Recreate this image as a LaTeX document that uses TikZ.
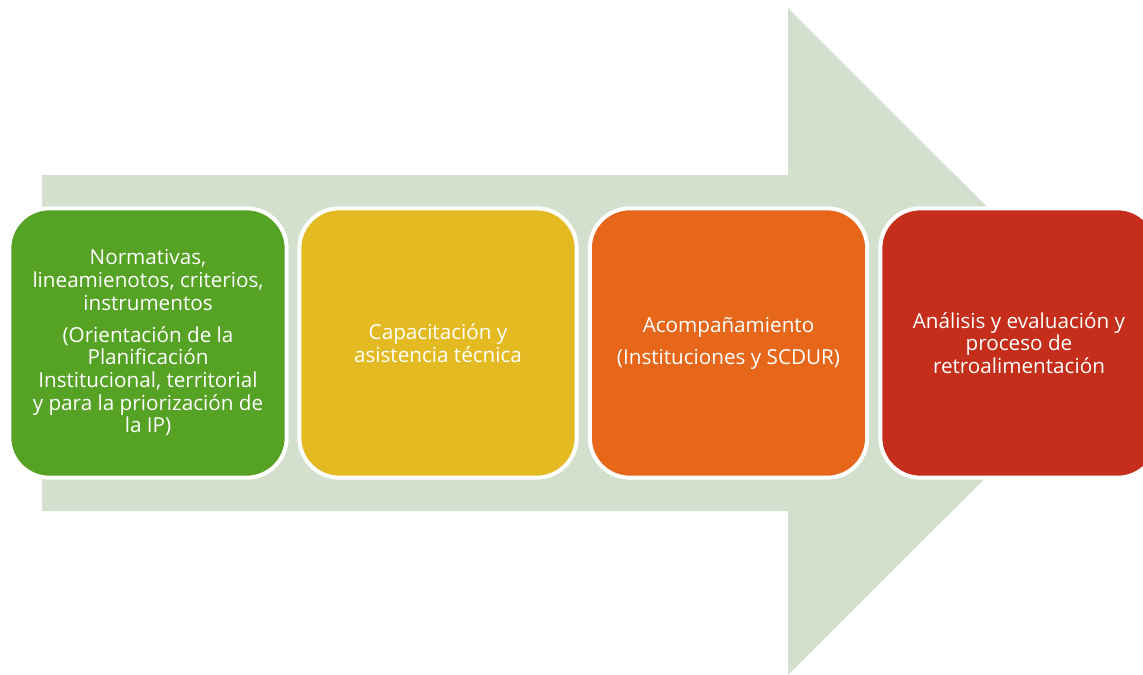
\documentclass[tikz,border=0pt]{standalone}
\usepackage{fontspec}
\setmainfont{Open Sans}
\usetikzlibrary{positioning}
\definecolor{arrowgreen}{HTML}{D3E0CD}
\definecolor{boxgreen}{HTML}{56A225}
\definecolor{boxyellow}{HTML}{E4BA22}
\definecolor{boxorange}{HTML}{E6671A}
\definecolor{boxred}{HTML}{C42E1A}
\begin{document}
\begin{tikzpicture}[x=0.75pt,y=-0.75pt]
		\tikzset{stepbox/.style = {shape=rectangle,rounded corners=30pt,draw=white,line width=3pt,
			minimum width=208pt,minimum height=202pt,text=white,align=center,
			font=\fontsize{15.5}{17}\selectfont}}
		\useasboundingbox (0,0) rectangle (1143,675);
		\clip (0,0) rectangle (1143,675);
		% big arrow behind
		\fill[arrowgreen] (42,175) -- (788,175) -- (788,8) -- (1122,341.5) -- (788,675) -- (788,511) -- (42,511) -- cycle;
		\node[stepbox,fill=boxgreen] (norm) at (148,343) {Normativas,\\ lineamienotos, criterios,\\ instrumentos\\[7pt] (Orientación de la\\ Planificación\\ Institucional, territorial\\ y para la priorización de\\ la IP)};
		\node[stepbox,fill=boxyellow] (cap) at (438,343) {Capacitación y\\ asistencia técnica};
		\node[stepbox,fill=boxorange] (acomp) at (728.5,343) {Acompañamiento\\[7pt] (Instituciones y SCDUR)};
		\node[stepbox,fill=boxred] (anal) at (1019,343) {Análisis y evaluación y\\ proceso de\\ retroalimentación};
	\end{tikzpicture}
\end{document}
